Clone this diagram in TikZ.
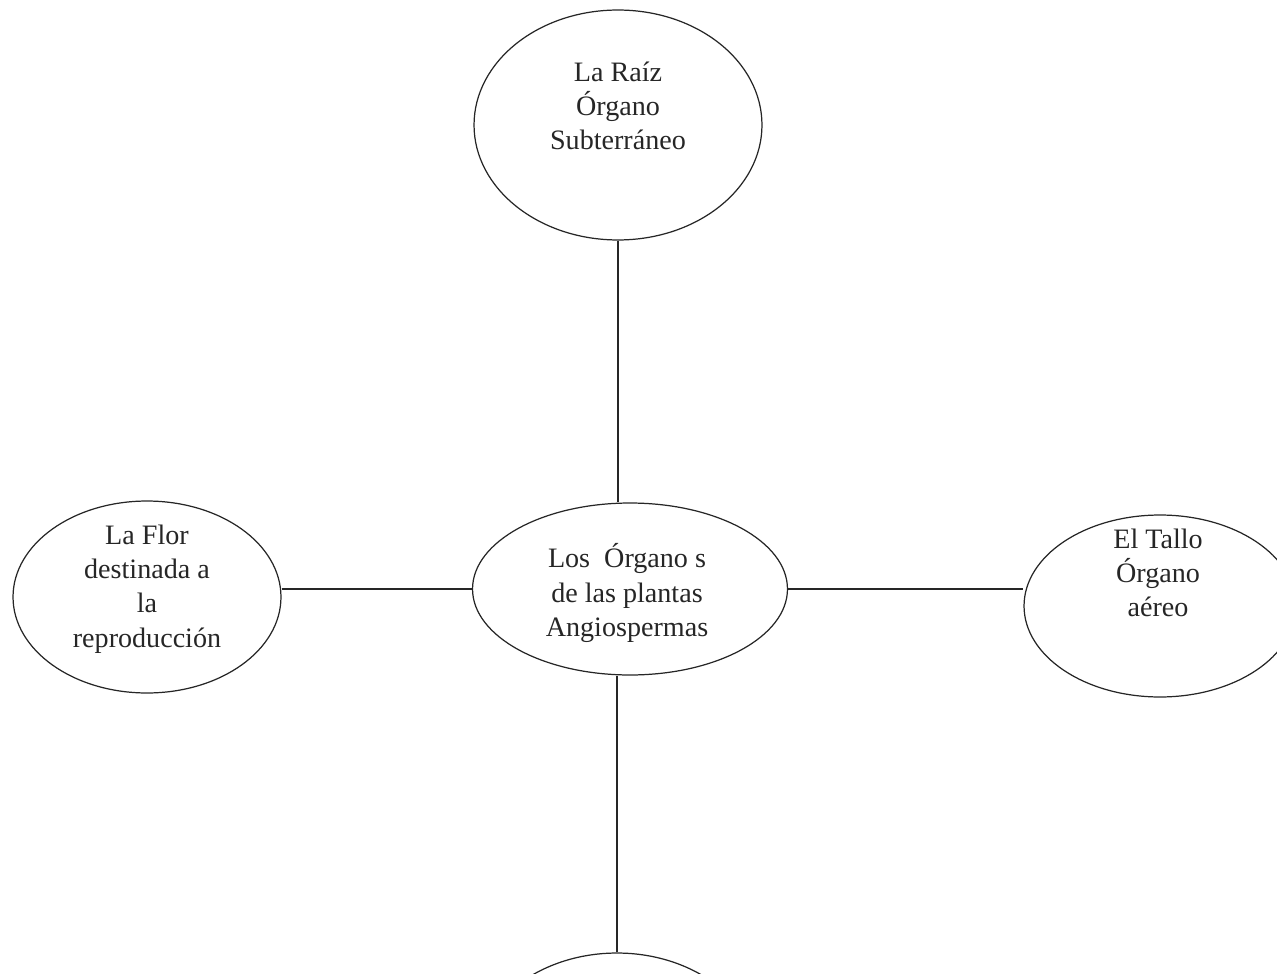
\documentclass[tikz,border=0pt]{standalone}
\usepackage{fontspec}
\setmainfont{Liberation Serif}
\usepackage{tikz}
\usetikzlibrary{positioning, shapes.geometric}

\begin{document}
\begin{tikzpicture}[
    x=0.02cm, y=-0.02cm,
    organ/.style={draw=black!85, ellipse, line width=0.7pt, inner sep=0pt},
    organtext/.style={align=center, font=\fontsize{16}{19.5}\selectfont, text=black!85},
    link/.style={draw=black!85, line width=0.7pt}
  ]
    \useasboundingbox (0,0) rectangle (1277,973);
    % ellipses
    \node[organ, minimum width=5.76cm, minimum height=4.6cm] (raiz) at (618,125) {};
    \node[organ, minimum width=6.3cm, minimum height=3.44cm] (centro) at (630,589) {};
    \node[organ, minimum width=5.36cm, minimum height=3.84cm] (flor) at (147,597) {};
    \node[organ, minimum width=5.44cm, minimum height=3.64cm] (tallo) at (1160,606) {};
    \node[organ, minimum width=5.76cm, minimum height=4.6cm] (inferior) at (617,1068) {};
    % texts
    \node[organtext] (raiztxt) at (618,106) {La Raíz\\Órgano\\Subterráneo};
    \node[organtext] (centrotxt) at (627,593) {Los~ Órgano s\\de las plantas\\Angiospermas};
    \node[organtext] (flortxt) at (147,589) {La Flor\\destinada a\\la\\reproducción};
    \node[organtext] (tallotxt) at (1158,573) {El Tallo\\Órgano\\aéreo};
    % links
    \draw[link] (raiz.south) -- (raiz.south |- centro.north);
    \draw[link] (centro.west) -- (centro.west -| flor.east);
    \draw[link] (centro.east) -- (centro.east -| tallo.west);
    \draw[link] (inferior.north) -- (inferior.north |- centro.south);
\end{tikzpicture}
\end{document}
